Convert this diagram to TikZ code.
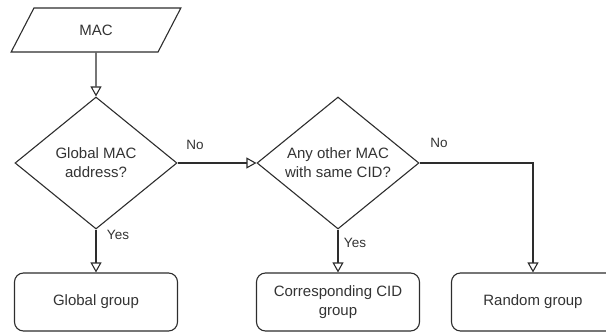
\documentclass[tikz,border=0pt]{standalone}
\usepackage{fontspec}
\setmainfont{Liberation Sans}
\usetikzlibrary{positioning, shapes.geometric, arrows.meta}
\definecolor{linegray}{RGB}{45, 45, 45}
\definecolor{textgray}{RGB}{51, 51, 51}

\begin{document}
\begin{tikzpicture}[
                x=1pt, y=-1pt,
                datain/.style={trapezium, trapezium left angle=60, trapezium right angle=120, trapezium stretches=true, draw=linegray, line width=1.1pt, minimum width=170pt, minimum height=44pt, inner sep=0pt, font=\fontsize{15pt}{19pt}\selectfont, text=textgray},
                decision/.style={diamond, draw=linegray, line width=1.1pt, aspect=1.227, minimum width=162pt, minimum height=132pt, inner sep=0pt, align=center, font=\fontsize{15pt}{19pt}\selectfont, text=textgray},
                groupbox/.style={draw=linegray, line width=1.1pt, rounded corners=9pt, minimum width=163pt, minimum height=58pt, inner sep=0pt, align=center, font=\fontsize{15pt}{19pt}\selectfont, text=textgray},
                flow/.style={draw=linegray, line width=1.1pt, -{Triangle[open, length=10pt, width=11pt]}},
                lbl/.style={font=\fontsize{13.5pt}{16pt}\selectfont, text=textgray, inner sep=0pt}
            ]
                % Marco de la imagen
                \useasboundingbox (0, 0) rectangle (606, 332);
                \clip (0, 0) rectangle (606, 332);

                % Entrada
                \node[datain] (mac) at (96, 30) {MAC};

                % Decisiones
                \node[decision] (global) at (96, 163) {Global MAC\\address?};
                \node[decision] (other) at (338, 163) {Any other MAC\\with same CID?};

                % Grupos
                \node[groupbox] (ggroup) at (96, 302) {Global group};
                \node[groupbox] (cgroup) at (338, 302) {Corresponding CID\\group};
                \node[groupbox] (rgroup) at (533, 302) {Random group};

                % Flechas
                \draw[flow] (mac) -- (global);
                \draw[flow] (global.east) -- (other.west);
                \draw[flow] (global.south) -- (ggroup.north);
                \draw[flow] (other.south) -- (cgroup.north);
                \draw[flow] (other.east) -| (rgroup.north);

                % Etiquetas
                \node[lbl] (no1) at (195, 145) {No};
                \node[lbl] (no2) at (439, 143) {No};
                \node[lbl] (yes1) at (118, 235) {Yes};
                \node[lbl] (yes2) at (355, 243) {Yes};
            \end{tikzpicture}
\end{document}
